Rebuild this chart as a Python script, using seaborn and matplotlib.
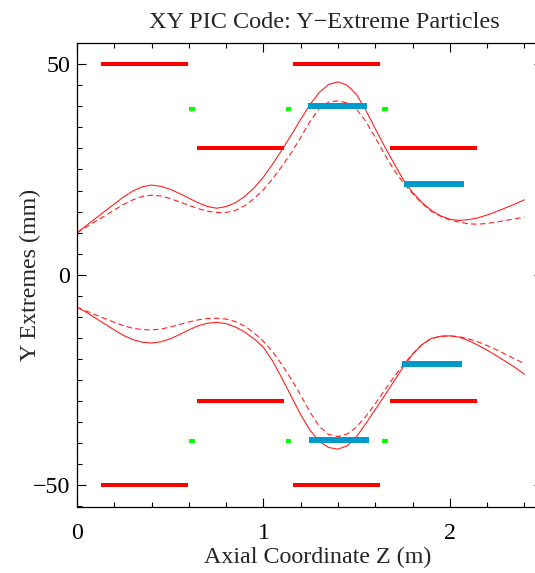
import matplotlib
matplotlib.use("Agg")
import matplotlib.pyplot as plt
from matplotlib.ticker import MultipleLocator
import seaborn as sns
import pandas as pd

# ---------------- data ----------------
z = [0.00, 0.05, 0.10, 0.15, 0.20, 0.25, 0.30, 0.35, 0.40, 0.45,
     0.50, 0.55, 0.60, 0.65, 0.70, 0.75, 0.80, 0.85, 0.90, 0.95,
     1.00, 1.05, 1.10, 1.15, 1.20, 1.25, 1.30, 1.35, 1.40, 1.45,
     1.50, 1.55, 1.60, 1.65, 1.70, 1.75, 1.80, 1.85, 1.90, 1.95,
     2.00, 2.05, 2.10, 2.15, 2.20, 2.25, 2.30, 2.35, 2.40]

top_solid = [10.0, 11.7, 13.4, 15.1, 16.8, 18.5, 19.9, 20.9, 21.3, 21.0,
             20.3, 19.3, 18.2, 17.1, 16.2, 15.8, 16.2, 17.1, 18.6, 20.6,
             23.2, 26.3, 29.7, 33.2, 36.9, 40.4, 43.3, 45.2, 45.8, 45.0,
             42.8, 39.0, 34.7, 30.5, 26.5, 22.6, 19.6, 17.2, 15.3, 14.0,
             13.2, 12.9, 13.1, 13.5, 14.2, 15.0, 15.9, 16.8, 17.8]

top_dashed = [10.0, 11.3, 12.7, 14.0, 15.4, 16.7, 17.8, 18.6, 18.9, 18.7,
              18.1, 17.3, 16.5, 15.7, 15.1, 14.8, 14.8, 15.3, 16.4, 18.1,
              20.2, 22.8, 25.8, 29.0, 32.6, 36.4, 39.5, 41.0, 41.3, 40.8,
              39.3, 36.4, 32.6, 28.6, 24.9, 21.9, 19.3, 17.0, 15.1, 13.9,
              13.0, 12.5, 12.1, 12.0, 12.2, 12.5, 12.9, 13.3, 13.7]

bot_solid = [-7.7, -8.9, -10.3, -11.7, -13.1, -14.4, -15.4, -16.0, -16.2, -15.9,
             -15.2, -14.2, -13.1, -12.1, -11.5, -11.3, -11.6, -12.4, -13.6, -15.2,
             -17.2, -20.5, -24.6, -28.9, -33.2, -36.9, -39.5, -41.0, -41.4, -40.6,
             -38.4, -35.3, -32.0, -28.7, -25.3, -21.9, -18.9, -16.6, -15.1, -14.6,
             -14.5, -14.8, -15.6, -16.7, -17.9, -19.2, -20.6, -22.0, -23.6]

bot_dashed = [-7.7, -8.6, -9.5, -10.4, -11.3, -12.1, -12.7, -13.0, -13.1, -12.9,
              -12.4, -11.8, -11.2, -10.7, -10.4, -10.3, -10.5, -11.1, -12.2, -13.8,
              -15.8, -18.3, -21.4, -24.8, -28.6, -32.6, -36.0, -37.9, -38.4, -37.8,
              -36.1, -33.6, -30.6, -27.4, -24.3, -21.4, -18.8, -16.6, -15.2, -14.6,
              -14.5, -14.7, -15.2, -15.9, -16.8, -17.8, -18.9, -20.0, -21.1]

# red element bars (z start, z end, y)
red_start = [0.127, 1.160, 0.645, 1.678, 0.645, 1.678, 0.127, 1.160]
red_end   = [0.594, 1.628, 1.108, 2.145, 1.108, 2.145, 0.594, 1.628]
red_y     = [50, 50, 30, 30, -30, -30, -50, -50]

# blue bars
blue_start = [1.239, 1.755, 1.246, 1.744]
blue_end   = [1.558, 2.075, 1.566, 2.064]
blue_y     = [40.0, 21.6, -39.2, -21.1]

# green markers
green_z = [0.618, 1.135, 1.652, 0.618, 1.135, 1.652]
green_y = [39.4, 39.4, 39.4, -39.5, -39.5, -39.5]

title = "XY PIC Code: Y\u2212Extreme Particles"
xlabel = "Axial Coordinate Z (m)"
ylabel = "Y Extremes (mm)"

# ---------------- style ----------------
sns.set_style("ticks")
plt.rcParams["font.family"] = ["Liberation Serif", "DejaVu Serif"]
plt.rcParams["axes.unicode_minus"] = True

W, H = 535, 573
fig = plt.figure(figsize=(W / 100, H / 100), dpi=100)
x0, x1, ytop, ybot = 77, 543, 42.7, 507.3
ax = fig.add_axes([x0 / W, 1 - ybot / H, (x1 - x0) / W, (ybot - ytop) / H])

df = pd.DataFrame({"z": z, "ts": top_solid, "td": top_dashed,
                   "bs": bot_solid, "bd": bot_dashed})

for col, dashed in [("ts", False), ("td", True), ("bs", False), ("bd", True)]:
    kw = dict(linestyle=(0, (5, 3))) if dashed else {}
    sns.lineplot(data=df, x="z", y=col, color="#ff2020", lw=0.8, ax=ax,
                 legend=False, **kw)

ax.hlines(red_y, red_start, red_end, colors="#ff0000", lw=2.9, capstyle="butt")
ax.hlines(blue_y, blue_start, blue_end, colors="#0099cc", lw=4.3, capstyle="butt")
gw = 0.015
ax.hlines(green_y, [g - gw for g in green_z], [g + gw for g in green_z],
          colors="#00ff00", lw=2.9)

ax.set_xlim(0, 2.5)
ax.set_ylim(-55.2, 55.1)
ax.xaxis.set_major_locator(MultipleLocator(1))
ax.xaxis.set_minor_locator(MultipleLocator(0.2))
ax.yaxis.set_major_locator(MultipleLocator(50))
ax.yaxis.set_minor_locator(MultipleLocator(5))

for s in ax.spines.values():
    s.set_visible(True)
    s.set_linewidth(0.9)
    s.set_color("black")

ax.tick_params(which="both", direction="in", top=True, right=True,
               labelsize=17.3, colors="black", width=0.8)
ax.tick_params(axis="x", which="both", pad=11)
ax.tick_params(axis="y", which="both", pad=5)
ax.tick_params(which="major", length=6.5)
ax.tick_params(which="minor", length=3.6)
ax.tick_params(axis="y", which="minor", right=False)

ax.set_xlabel(xlabel, fontsize=17.3)
ax.set_ylabel(ylabel, fontsize=17.3)
ax.xaxis.set_label_coords((318 - x0) / (x1 - x0), -0.085)
ax.yaxis.set_label_coords(-0.078, 0.5)
fig.text(324 / W, 1 - 28 / H, title, fontsize=17.5, ha="center", va="baseline")

fig.savefig("out.png", dpi=100)
